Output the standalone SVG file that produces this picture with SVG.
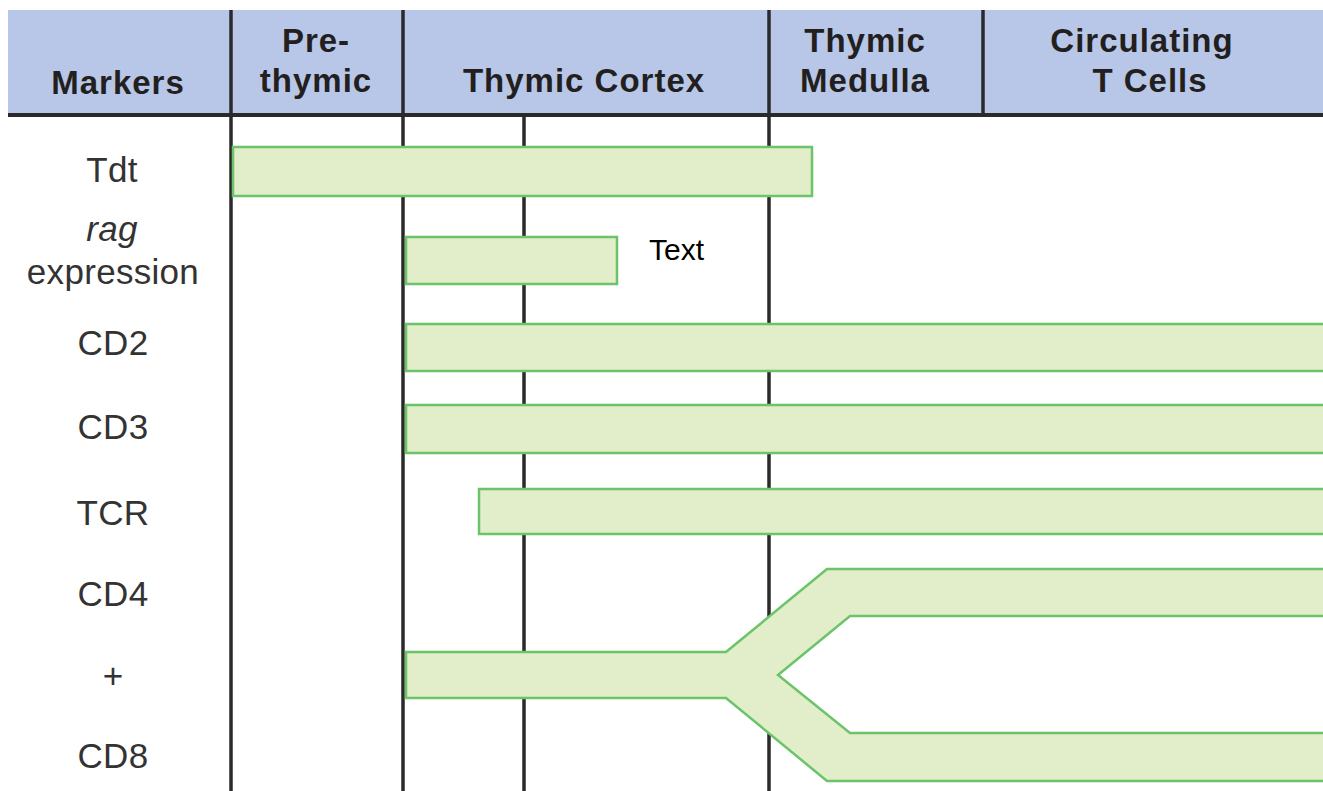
<svg xmlns="http://www.w3.org/2000/svg" width="1323" height="791" viewBox="0 0 1323 791">
<style>
.hdr{font-family:"Liberation Sans",Arial,sans-serif;font-weight:bold;font-size:33px;letter-spacing:1px;fill:#231f20;text-anchor:middle}
.lbl{font-family:"Liberation Sans",Arial,sans-serif;font-size:35px;letter-spacing:0.3px;fill:#333333;text-anchor:middle}
.bar{fill:#e2edc9;stroke:#6cc46a;stroke-width:2.5}
.vl{stroke:#2a2a2a;stroke-width:3.5}
.note{font-family:"Liberation Sans",Arial,sans-serif;font-size:30px;fill:#000000}
</style>
<rect width="1323" height="791" fill="#ffffff"/>
<g id="header">
<rect x="8" y="10" width="1315" height="105" fill="#b8c7e7"/>
<text class="hdr" x="118" y="94">Markers</text>
<text class="hdr" x="316" y="52">Pre-</text>
<text class="hdr" x="316" y="92">thymic</text>
<text class="hdr" x="584" y="92">Thymic Cortex</text>
<text class="hdr" x="865" y="52">Thymic</text>
<text class="hdr" x="865" y="92">Medulla</text>
<text class="hdr" x="1142" y="52">Circulating</text>
<text class="hdr" x="1150" y="92">T Cells</text>
</g>
<g id="connectors">
<line class="vl" x1="8" y1="115" x2="1323" y2="115" style="stroke-width:4"/>
<line class="vl" x1="231" y1="10" x2="231" y2="791"/>
<line class="vl" x1="403" y1="10" x2="403" y2="791"/>
<line class="vl" x1="524" y1="115" x2="524" y2="791"/>
<line class="vl" x1="769" y1="10" x2="769" y2="791"/>
<line class="vl" x1="983" y1="10" x2="983" y2="115"/>
</g>
<g id="labels">
<text class="lbl" x="112" y="182">Tdt</text>
<text class="lbl" x="112" y="241" style="font-style:italic">rag</text>
<text class="lbl" x="113" y="284">expression</text>
<text class="lbl" x="113" y="355">CD2</text>
<text class="lbl" x="113" y="439">CD3</text>
<text class="lbl" x="113" y="525">TCR</text>
<text class="lbl" x="113" y="606">CD4</text>
<text class="lbl" x="113" y="688">+</text>
<text class="lbl" x="113" y="768">CD8</text>
</g>
<g id="bar-tdt"><rect class="bar" x="233" y="147" width="579" height="49"/></g>
<g id="bar-rag"><rect class="bar" x="406" y="237" width="211" height="47"/></g>
<g id="note"><text class="note" x="649" y="260">Text</text></g>
<g id="bar-cd2"><rect class="bar" x="406" y="324" width="925" height="47"/></g>
<g id="bar-cd3"><rect class="bar" x="406" y="405" width="925" height="48"/></g>
<g id="bar-tcr"><rect class="bar" x="479" y="489" width="852" height="45"/></g>
<g id="bar-cd4-cd8"><path class="bar" d="M406,652 L726,652 L827,569 L1331,569 L1331,616 L850,616 L778,675 L850,733 L1331,733 L1331,781 L827,781 L726,698 L406,698 Z"/></g>
</svg>
